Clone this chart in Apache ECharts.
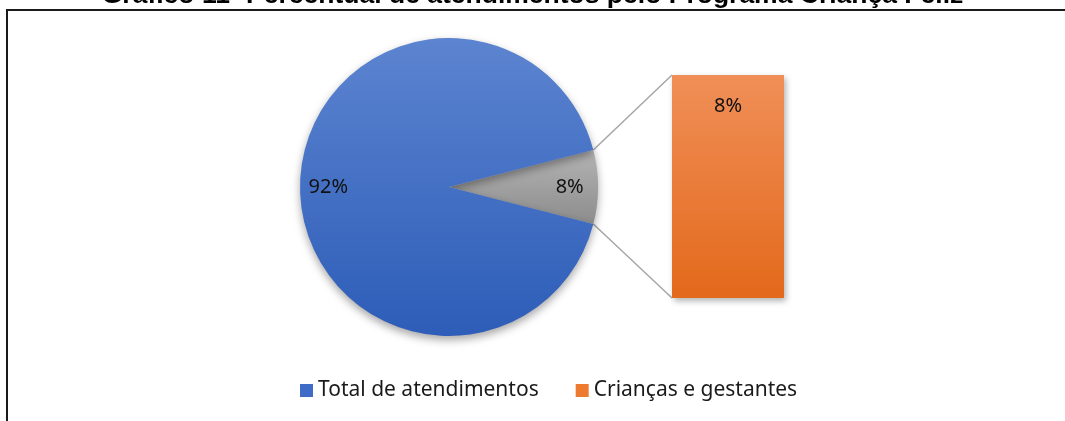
<!DOCTYPE html>
<html>
<head>
<meta charset="utf-8">
<script src="https://cdn.jsdelivr.net/npm/echarts@6/dist/echarts.min.js"></script>
<style>
  html, body { margin: 0; padding: 0; background: #fff; }
  #chart { width: 1065px; height: 421px; }
</style>
</head>
<body>
<div id="chart"></div>
<script>
const titleText = 'Gráfico 11- Percentual de atendimentos pelo Programa Criança Feliz'
// pie: first slice is the "other" slice that gets broken out into the bar
const pieNames = ['Outro', 'Total de atendimentos']
const pieValues = [8, 92]
const barNames = ['Crianças e gestantes']
const barValues = [8]
const legendNames = ['Total de atendimentos', 'Crianças e gestantes']

const pieCenter = [449, 187]
const pieRadius = 149
const total = pieValues.reduce((a, b) => a + b, 0)
const otherAngle = pieValues[0] / total * 360
const startAngle = otherAngle / 2

const font = '"Noto Sans", sans-serif'

const grad = (top, bottom) => new echarts.graphic.LinearGradient(0, 0, 0, 1, [
  { offset: 0, color: top },
  { offset: 1, color: bottom }
])

const pieColors = [grad('#b4b4b4', '#8c8c8c'), grad('#5c84d0', '#2d5db8')]

const chart = echarts.init(document.getElementById('chart'), null, { renderer: 'canvas' })

chart.setOption({
  backgroundColor: '#fff',
  animation: false,
  title: {
    text: titleText,
    left: 'center',
    top: -23,
    textStyle: { fontFamily: '"Liberation Sans", Arial, sans-serif', fontWeight: 'bold', fontSize: 26.5, color: '#000' }
  },
  legend: {
    data: [
      { name: legendNames[0], itemStyle: { color: '#3e6cc6' } },
      { name: legendNames[1], itemStyle: { color: '#ee7a30' } }
    ],
    left: 295,
    top: 375,
    icon: 'rect',
    itemWidth: 13,
    itemHeight: 13,
    itemGap: 37,
    textStyle: { fontFamily: font, fontSize: 21, color: '#1a1a1a' }
  },
  grid: { left: 672, top: 75, width: 112, bottom: 123 },
  xAxis: { type: 'category', data: barNames, show: false },
  yAxis: { type: 'value', min: 0, max: Math.max(...barValues), show: false },
  series: [
    {
      type: 'pie',
      center: pieCenter,
      radius: pieRadius,
      startAngle: startAngle,
      clockwise: true,
      silent: true,
      data: pieNames.map((n, i) => ({ name: n, value: pieValues[i], itemStyle: { color: pieColors[i] } })),
      label: { show: false },
      labelLine: { show: false },
      itemStyle: {
        shadowBlur: 8,
        shadowOffsetY: 4,
        shadowColor: 'rgba(0,0,0,0.35)'
      }
    },
    {
      // transparent ring only used to put the percent labels near the rim
      type: 'pie',
      center: pieCenter,
      radius: [pieRadius * 0.58, pieRadius],
      startAngle: startAngle,
      clockwise: true,
      silent: true,
      data: pieNames.map((n, i) => ({ name: n, value: pieValues[i] })),
      itemStyle: { color: 'rgba(0,0,0,0)' },
      label: {
        show: true,
        position: 'inside',
        formatter: '{d}%',
        fontFamily: font,
        fontSize: 20,
        color: '#111'
      },
      labelLine: { show: false }
    },
    {
      type: 'bar',
      name: barNames[0],
      data: barValues,
      barWidth: '100%',
      silent: true,
      itemStyle: {
        color: grad('#f08f58', '#e3691b'),
        shadowBlur: 6,
        shadowOffsetX: 2,
        shadowOffsetY: 3,
        shadowColor: 'rgba(0,0,0,0.3)'
      },
      label: {
        show: true,
        position: 'insideTop',
        distance: 21,
        formatter: p => p.value + '%',
        fontFamily: font,
        fontSize: 20,
        color: '#111'
      }
    }
  ]
})

// connector lines from the broken-out slice to the bar, taken from the layout
const rad = startAngle * Math.PI / 180
const sliceTop = [pieCenter[0] + pieRadius * Math.cos(rad), pieCenter[1] - pieRadius * Math.sin(rad)]
const sliceBottom = [pieCenter[0] + pieRadius * Math.cos(rad), pieCenter[1] + pieRadius * Math.sin(rad)]
const xAxisModel = chart.getModel().getComponent('xAxis', 0)
const bandWidth = xAxisModel.axis.getBandWidth()
const barLeft = chart.convertToPixel({ xAxisIndex: 0 }, barNames[0]) - bandWidth / 2
const barTop = chart.convertToPixel({ yAxisIndex: 0 }, barValues[0])
const barBottom = chart.convertToPixel({ yAxisIndex: 0 }, 0)

chart.setOption({
  graphic: [
    {
      type: 'rect',
      shape: { x: 7, y: 10, width: 1080, height: 430 },
      style: { fill: 'none', stroke: '#1a1a1a', lineWidth: 2 },
      silent: true
    },
    {
      type: 'line',
      shape: { x1: sliceTop[0], y1: sliceTop[1], x2: barLeft, y2: barTop },
      style: { stroke: '#a6a6a6', lineWidth: 1.5 },
      silent: true
    },
    {
      type: 'line',
      shape: { x1: sliceBottom[0], y1: sliceBottom[1], x2: barLeft, y2: barBottom },
      style: { stroke: '#a6a6a6', lineWidth: 1.5 },
      silent: true
    }
  ]
})
</script>
</body>
</html>
